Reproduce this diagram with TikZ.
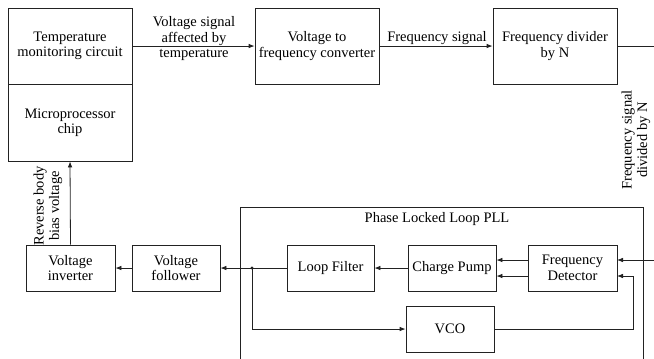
\documentclass[tikz,border=0pt]{standalone}
\usepackage{fontspec}
\setmainfont{Liberation Serif}
\usepackage{tikz}
\usetikzlibrary{arrows.meta}
\definecolor{lineblack}{HTML}{222222}

\tikzset{
  blk/.style={draw=lineblack,line width=0.8pt,rectangle,align=center,inner sep=0pt},
  arr/.style={draw=lineblack,line width=0.8pt,-{Latex[length=6pt,width=4.6pt]}},
  wire/.style={draw=lineblack,line width=0.8pt}
}

\begin{document}
\begin{tikzpicture}[x=1pt,y=-1pt,font=\rmfamily\fontsize{14.5}{15.5}\selectfont]
  \path[use as bounding box,clip] (0,0) rectangle (654,359);
  % top row
  \node[blk,minimum width=124pt,minimum height=76pt] (temp) at (70,46) {Temperature\\monitoring circuit};
  \node[blk,minimum width=124pt,minimum height=77pt] (micro) at (70,122.5) {Microprocessor\\chip};
  \node[blk,minimum width=124pt,minimum height=76pt] (vtof) at (317,46) {Voltage to\\frequency converter};
  \node[blk,minimum width=124pt,minimum height=76pt] (div) at (555,46) {Frequency divider\\by N};
  % PLL frame
  \draw[wire] (240,420) -- (240,207) -- (643,207) -- (643,420);
  \node (plltitle) at (437,219) {Phase Locked Loop PLL};
  % bottom row
  \node[blk,minimum width=89pt,minimum height=46pt] (inv) at (70.5,268) {Voltage\\inverter};
  \node[blk,minimum width=88pt,minimum height=46pt] (fol) at (176,268) {Voltage\\follower};
  \node[blk,minimum width=87pt,minimum height=46pt] (lf) at (330.5,268) {Loop Filter};
  \node[blk,minimum width=88pt,minimum height=46pt] (cp) at (452,268) {Charge Pump};
  \node[blk,minimum width=89pt,minimum height=46pt] (fd) at (572.5,268) {Frequency\\Detector};
  \node[blk,minimum width=88pt,minimum height=46pt] (vco) at (450,329) {VCO};
  \coordinate (fdA) at (617,260);
  \coordinate (fdB) at (617,276);
  \coordinate (ret) at (633,276);
  \coordinate (tap) at (252,268);
  \coordinate (outer) at (680,46);
  % connectors
  \draw[arr] (temp.east) -- (vtof.west);
  \draw[arr] (vtof.east) -- (div.west);
  \draw[arr] (div.east) -- (outer) |- (fdA);
  \draw[arr] (fd.west |- fdA) -- (cp.east |- fdA);
  \draw[arr] (fd.west |- fdB) -- (cp.east |- fdB);
  \draw[arr] (cp.west) -- (lf.east);
  \draw[arr] (lf.west) -- (fol.east);
  \fill[lineblack] (tap) circle[radius=1.7pt];
  \draw[arr] (tap) |- (vco.west);
  \draw[arr] (vco.east) -| (ret) -- (fdB);
  \draw[arr] (fol.west) -- (inv.east);
  \draw[arr] (inv.north) -- (micro.south);
  % labels
  \node[align=center] (vlabel) at (194,39) {Voltage signal\\affected by\\temperature};
  \node (flabel) at (437,38) {Frequency signal};
  \node[align=center,rotate=90] (nlabel) at (636,140) {Frequency signal\\divided by N};
  \node[align=center,rotate=90] (blabel) at (48,206) {Reverse body\\bias voltage};
\end{tikzpicture}
\end{document}
